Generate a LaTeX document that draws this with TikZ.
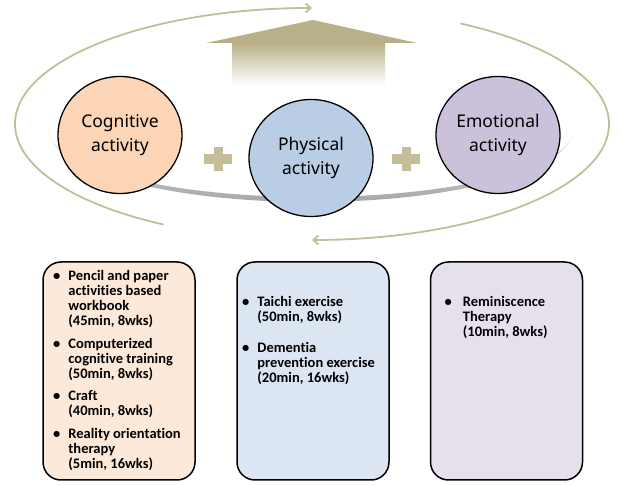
\documentclass[tikz,border=0pt]{standalone}
\usepackage{fontspec}
\setmainfont{Carlito}[Ligatures={NoCommon}]
\newfontfamily\circfont{Noto Sans}
\usetikzlibrary{arrows.meta, shapes.geometric}

\definecolor{looptan}{HTML}{C4BD97}
\definecolor{arrowtan}{HTML}{B8B088}
\definecolor{cogfill}{HTML}{FBD5B5}
\definecolor{phyfill}{HTML}{B9CDE5}
\definecolor{emofill}{HTML}{CCC1DA}
\definecolor{cogpale}{HTML}{FDE9D9}
\definecolor{phypale}{HTML}{DCE6F2}
\definecolor{emopale}{HTML}{E6E0EC}

\newcommand{\listdot}[1][8pt]{\llap{\textbullet\hspace{#1}}}

\begin{document}
\begin{tikzpicture}[
    x=1pt, y=1pt,
    >={Straight Barb[length=5pt,width=9pt]},
    cyclearrow/.style={looptan, line width=1.8pt, ->},
    activity/.style={ellipse, draw=black, line width=1.3pt,
        minimum width=124pt, minimum height=117pt, inner sep=0pt,
        align=center, font=\circfont\fontsize{17.5}{24}\selectfont},
    listbox/.style={draw=black, line width=1.5pt, rounded corners=18pt,
        minimum width=152pt, minimum height=218pt},
    items/.style={anchor=north west, inner sep=0pt, align=left,
        font=\bfseries\fontsize{14.5}{15}\selectfont}
]
\useasboundingbox (0,0) rectangle (622,485);

% Cycle around the activities
\coordinate (cyc) at (312,361);
\draw[cyclearrow] (cyc) ++(240:297 and 116)
    arc[start angle=240, end angle=90, x radius=297, y radius=116];
\draw[cyclearrow] (cyc) ++(60:297 and 116)
    arc[start angle=60, end angle=-90, x radius=297, y radius=116];

% Upward arrow
\fill[arrowtan] (313,465) -- (417,442) -- (206,442) -- cycle;
\shade[top color=arrowtan, bottom color=white] (232,442) rectangle (385,400);

% Shadow under the circles
\shade[top color=gray!15, bottom color=gray!70]
    (49,355) arc[start angle=180, end angle=360, x radius=262, y radius=72]
    arc[start angle=0, end angle=-180, x radius=262, y radius=67] -- cycle;

% Activities
\node[activity, fill=cogfill] (cog) at (120,350) {Cognitive\\activity};
\node[activity, fill=phyfill] (phy) at (311,327) {Physical\\activity};
\node[activity, fill=emofill] (emo) at (498,350) {Emotional\\activity};

% Plus signs
\foreach \px in {218,406} {
    \fill[looptan] (\px-14,320.5) rectangle (\px+14,330.5);
    \fill[looptan] (\px-4.5,313.5) rectangle (\px+4.5,337.5);
}

% Programme boxes
\node[listbox, fill=cogpale] (cogbox) at (119,114) {};
\node[listbox, fill=phypale] (phybox) at (313,114) {};
\node[listbox, fill=emopale] (emobox) at (506.5,114) {};

\node[items] (coglist) at ([xshift=26pt, yshift=-9pt]cogbox.north west) {%
    \listdot Pencil and paper\\ activities based\\ workbook\\ (45min, 8wks)\\[7.5pt]
    \listdot Computerized\\ cognitive training\\ (50min, 8wks)\\[7.5pt]
    \listdot Craft\\ (40min, 8wks)\\[7.5pt]
    \listdot Reality orientation\\ therapy\\ (5min, 16wks)};
\node[items] (phylist) at ([xshift=21pt, yshift=-35pt]phybox.north west) {%
    \listdot Taichi exercise\\ (50min, 8wks)\\[16pt]
    \listdot Dementia\\ prevention exercise\\ (20min, 16wks)};
\node[items] (emolist) at ([xshift=33pt, yshift=-35pt]emobox.north west) {%
    \listdot[11pt]Reminiscence\\ Therapy\\ (10min, 8wks)};

\end{tikzpicture}
\end{document}
